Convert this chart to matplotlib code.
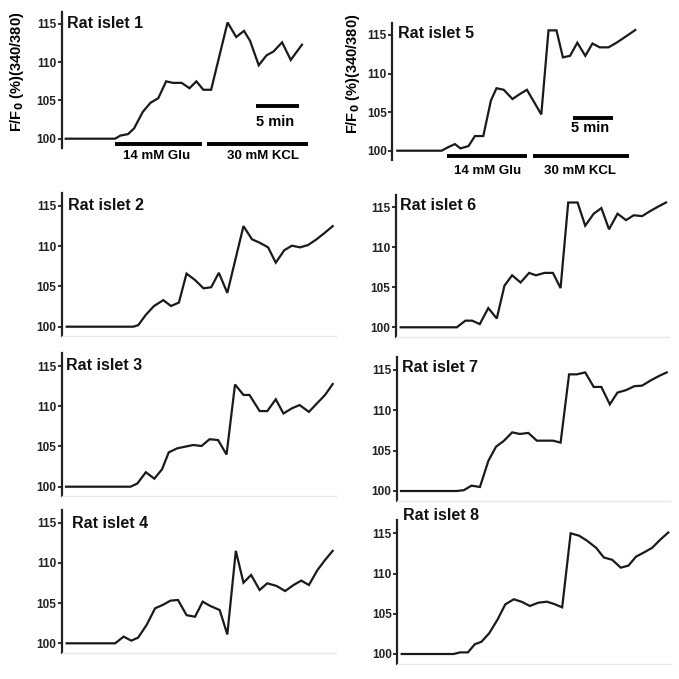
import matplotlib
matplotlib.use("Agg")
import matplotlib.pyplot as plt

plt.rcParams['font.family'] = ['Liberation Sans', 'DejaVu Sans']

# --- data: time (min) and F/F0 (%) for each islet ---
t1 = [0, 5.7, 6.3, 7.2, 7.9, 8.9, 9.8, 10.7, 11.6, 12.4, 13.4, 14.3, 15.1, 15.9, 16.8,
      18.7, 19.7, 20.6, 21.3, 22.3, 23.2, 24.0, 25.0, 26.0, 27.3]
v1 = [100, 100, 100.4, 100.6, 101.35, 103.5, 104.7, 105.3, 107.5, 107.3, 107.3, 106.6, 107.5, 106.4, 106.4,
      115.2, 113.3, 114.1, 112.8, 109.6, 110.9, 111.4, 112.6, 110.3, 112.3]

t5 = [0, 5.54, 6.25, 7.2, 7.9, 8.9, 9.7, 10.75, 11.7, 12.4, 13.3, 14.4, 15.25, 16.2, 18.0,
      18.9, 19.9, 20.7, 21.6, 22.5, 23.5, 24.4, 25.3, 26.4, 27.4, 28.7, 29.75]
v5 = [100, 100, 100.4, 100.86, 100.3, 100.6, 101.9, 101.9, 106.5, 108.1, 107.9, 106.7, 107.3, 107.9, 104.7,
      115.6, 115.6, 112.1, 112.3, 114.0, 112.3, 113.9, 113.4, 113.4, 114.0, 114.9, 115.65]

t2 = [0, 7.84, 8.43, 9.29, 10.27, 11.37, 12.27, 13.2, 14.1, 15.1, 16.1, 17.0, 17.9, 18.9,
      20.8, 21.8, 22.7, 23.7, 24.6, 25.6, 26.5, 27.45, 28.4, 29.4, 30.4, 31.3]
v2 = [100, 100, 100.2, 101.45, 102.57, 103.3, 102.57, 103.0, 106.6, 105.8, 104.77, 104.9, 106.7, 104.2,
      112.5, 110.86, 110.44, 109.86, 107.96, 109.5, 110.07, 109.86, 110.15, 110.86, 111.7, 112.5]

t6 = [0, 6.6, 7.6, 8.4, 9.3, 10.3, 11.3, 12.2, 13.1, 14.1, 15.1, 15.9, 16.9, 17.9, 18.8,
      19.7, 20.8, 21.7, 22.7, 23.6, 24.5, 25.5, 26.5, 27.4, 28.4, 29.3, 30.3, 31.2]
v6 = [100, 100, 100.83, 100.83, 100.4, 102.4, 101.1, 105.2, 106.5, 105.6, 106.8, 106.5, 106.8, 106.8, 104.9,
      115.6, 115.6, 112.7, 114.2, 114.9, 112.25, 114.2, 113.4, 114.0, 113.9, 114.5, 115.1, 115.6]

t3 = [0, 7.6, 8.4, 9.4, 10.4, 11.3, 12.1, 13.1, 14.0, 14.98, 15.96, 16.9, 17.9, 18.9,
      19.9, 20.9, 21.6, 22.8, 23.7, 24.7, 25.6, 26.6, 27.5, 28.6, 29.5, 30.5, 31.4]
v3 = [100, 100, 100.4, 101.8, 101.0, 102.15, 104.27, 104.77, 104.97, 105.18, 105.06, 105.9, 105.8, 104.0,
      112.7, 111.4, 111.4, 109.4, 109.4, 110.86, 109.1, 109.74, 110.15, 109.3, 110.3, 111.4, 112.76]

t7 = [0, 6.55, 7.4, 8.3, 9.3, 10.3, 11.2, 12.1, 13.1, 14.0, 15.0, 16.0, 16.9, 17.9, 18.8,
      19.8, 20.7, 21.7, 22.7, 23.6, 24.6, 25.5, 26.5, 27.5, 28.4, 29.4, 30.4, 31.3]
v7 = [100, 100, 100.1, 100.66, 100.5, 103.76, 105.5, 106.2, 107.27, 107.07, 107.2, 106.24, 106.24, 106.24, 106.0,
      114.46, 114.46, 114.7, 112.9, 112.9, 110.74, 112.2, 112.5, 113.0, 113.06, 113.7, 114.26, 114.7]

t4 = [0, 5.7, 6.7, 7.6, 8.4, 9.4, 10.4, 11.3, 12.2, 13.1, 14.1, 15.1, 16.0, 16.9, 18.0, 18.9,
      19.9, 20.8, 21.7, 22.7, 23.6, 24.7, 25.7, 26.7, 27.6, 28.5, 29.5, 30.4, 31.3]
v4 = [100, 100, 100.83, 100.33, 100.7, 102.28, 104.35, 104.77, 105.3, 105.39, 103.5, 103.3, 105.18, 104.64, 104.14, 101.1,
      111.5, 107.54, 108.5, 106.63, 107.46, 107.13, 106.5, 107.25, 107.8, 107.25, 109.1, 110.36, 111.5]

t8 = [0, 6.1, 6.9, 7.8, 8.6, 9.4, 10.3, 11.3, 12.2, 13.2, 14.1, 15.1, 16.1, 17.1, 18.0, 18.9,
      19.9, 20.9, 21.8, 22.9, 23.8, 24.8, 25.8, 26.7, 27.6, 28.5, 29.5, 30.5, 31.4]
v8 = [100, 100, 100.2, 100.2, 101.2, 101.53, 102.57, 104.3, 106.17, 106.8, 106.5, 105.97, 106.38, 106.5, 106.2, 105.8,
      115.0, 114.7, 114.1, 113.2, 112.0, 111.7, 110.73, 110.98, 112.1, 112.6, 113.2, 114.26, 115.1]

names = ["Rat islet 1", "Rat islet 5", "Rat islet 2", "Rat islet 6",
         "Rat islet 3", "Rat islet 7", "Rat islet 4", "Rat islet 8"]
times = [t1, t5, t2, t6, t3, t7, t4, t8]
values = [v1, v5, v2, v6, v3, v7, v4, v8]

# treatment bars (min) for islets 1 and 5, and 5-min scale bars
glu = {0: (5.7, 15.8), 1: (6.25, 16.25)}
kcl = {0: (16.3, 28.0), 1: (16.9, 28.9)}
scale = {0: (22.0, 27.0), 1: (22.0, 27.0)}
# label anchors (min, F/F0): Glu label x, KCL label x, label y, "5 min" x, y
lab_pos = {0: (10.5, 22.8, 97.7, 24.2, 102.2), 1: (11.3, 22.8, 97.4, 24.1, 102.9)}

yticks = [100, 105, 110, 115]
ylo, yhi = 98.8, 116.6

# panel layout in figure pixels: spine x, first point x, last point x, y of 115, y of 100
layout = [
    (62, 65.7, 302, 24, 138.7),
    (392.3, 397.3, 635.3, 35, 150.7),
    (62, 66.7, 332.7, 206, 326.7),
    (396, 400.7, 666, 207.3, 327.3),
    (62, 66, 332.7, 366, 486.7),
    (396.7, 401, 666.7, 370, 491),
    (62, 66.7, 332.7, 522.7, 643.3),
    (397.3, 401.7, 668.3, 533.3, 654),
]
title_pos = [(67, 24), (398, 33), (68, 206), (400, 205),
             (66, 366), (402, 367), (72, 523), (403, 515)]
ylabel_pos = {0: (17, 72), 1: (353, 74)}

W = H = 679
fig = plt.figure(figsize=(6.79, 6.79), dpi=100)

for i in range(8):
    sx, x0, x1, y115, y100 = layout[i]
    t, v = times[i], values[i]
    ppu = (y100 - y115) / 15.0
    top = y115 - (yhi - 115) * ppu
    bot = y100 + (100 - ylo) * ppu
    ppm = (x1 - x0) / t[-1]
    xl = -(x0 - sx) / ppm
    xr = t[-1] + 3 / ppm
    right = x1 + 3
    ax = fig.add_axes([sx / W, 1 - bot / H, (right - sx) / W, (bot - top) / H])
    ax.plot(t, v, color='#1a1a1a', lw=1.6, solid_joinstyle='miter')
    ax.set_xlim(xl, xr)
    ax.set_ylim(ylo, yhi)
    ax.set_xticks([])
    ax.set_yticks(yticks)
    ax.tick_params(axis='y', length=3, width=1.3, pad=1, labelsize=8.5, colors='#222222')
    for lab in ax.get_yticklabels():
        lab.set_fontweight('bold')
    ax.spines['top'].set_visible(False)
    ax.spines['right'].set_visible(False)
    ax.spines['left'].set_linewidth(1.6)
    ax.spines['left'].set_color('#222222')
    if i in glu:
        gx, kx, ly, sxl, syl = lab_pos[i]
        ax.spines['bottom'].set_visible(False)
        ax.plot(glu[i], [99.3, 99.3], color='black', lw=2.8, clip_on=False, solid_capstyle='butt')
        ax.plot(kcl[i], [99.3, 99.3], color='black', lw=2.8, clip_on=False, solid_capstyle='butt')
        ax.plot(scale[i], [104.3, 104.3], color='black', lw=2.8, clip_on=False, solid_capstyle='butt')
        ax.text(gx, ly, "14 mM Glu", ha='center', va='center',
                fontsize=9.5, fontweight='bold', clip_on=False)
        ax.text(kx, ly, "30 mM KCL", ha='center', va='center',
                fontsize=9.5, fontweight='bold', clip_on=False)
        ax.text(sxl, syl, "5 min", ha='center', va='center',
                fontsize=10.5, fontweight='bold')
        lx, lyy = ylabel_pos[i]
        fig.text(lx / W, 1 - lyy / H, "F/F$_\\mathbf{0}$ (%)(340/380)",
                 rotation=90, ha='center', va='center', fontsize=10.5, fontweight='bold')
    else:
        ax.spines['bottom'].set_color('#e6e6e6')
        ax.spines['bottom'].set_linewidth(1.0)
    tx, ty = title_pos[i]
    fig.text(tx / W, 1 - ty / H, names[i], ha='left', va='center',
             fontsize=11.5, fontweight='bold', color='#111111')

fig.savefig("out.png", dpi=100)
